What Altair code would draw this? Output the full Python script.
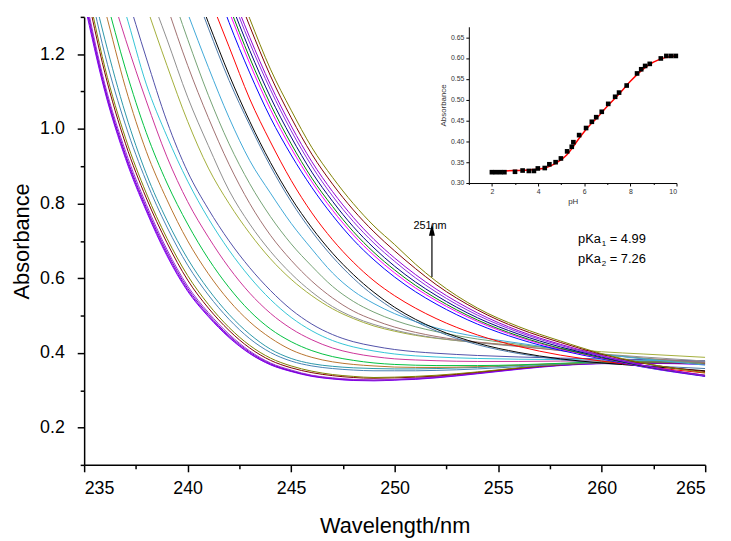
import altair as alt
import pandas as pd

# ---------------- main spectra ----------------
WL = [235, 236, 237, 238, 239, 240, 241, 242, 243, 244, 245, 246, 247, 248,
      249, 250, 251, 252, 254, 256, 258, 260, 262, 265]

# each list is aligned to the END of WL (curves enter the frame at different wavelengths)
S01 = [1.34, 1.10, 0.92, 0.78, 0.66, 0.565, 0.497, 0.441, 0.398, 0.368, 0.350, 0.337, 0.330, 0.326, 0.325, 0.327, 0.329, 0.333, 0.344, 0.356, 0.366, 0.371, 0.372, 0.369]
S02 = [1.35, 1.105, 0.925, 0.784, 0.664, 0.568, 0.499, 0.443, 0.399, 0.369, 0.351, 0.338, 0.331, 0.327, 0.326, 0.328, 0.330, 0.334, 0.345, 0.357, 0.367, 0.372, 0.373, 0.370]
S03 = [1.36, 1.112, 0.931, 0.79, 0.67, 0.573, 0.503, 0.446, 0.402, 0.371, 0.352, 0.339, 0.332, 0.328, 0.327, 0.328, 0.331, 0.335, 0.346, 0.358, 0.367, 0.372, 0.373, 0.371]
S04 = [1.37, 1.12, 0.94, 0.798, 0.677, 0.579, 0.508, 0.45, 0.405, 0.373, 0.354, 0.340, 0.333, 0.329, 0.327, 0.329, 0.332, 0.336, 0.347, 0.359, 0.368, 0.373, 0.374, 0.372]
S05 = [1.40, 1.15, 0.96, 0.815, 0.695, 0.595, 0.52, 0.46, 0.413, 0.38, 0.36, 0.347, 0.339, 0.334, 0.332, 0.333, 0.335, 0.338, 0.348, 0.359, 0.368, 0.373, 0.374, 0.372]
S06 = [1.42, 1.165, 0.975, 0.828, 0.707, 0.607, 0.53, 0.468, 0.42, 0.386, 0.365, 0.351, 0.342, 0.337, 0.334, 0.335, 0.337, 0.34, 0.349, 0.36, 0.369, 0.374, 0.375, 0.373]
S07 = [1.45, 1.20, 1.01, 0.86, 0.737, 0.635, 0.555, 0.49, 0.438, 0.401, 0.378, 0.365, 0.358, 0.354, 0.352, 0.352, 0.352, 0.353, 0.357, 0.363, 0.369, 0.374, 0.376, 0.375]
S08 = [1.47, 1.24, 1.04, 0.88, 0.755, 0.652, 0.57, 0.503, 0.45, 0.41, 0.385, 0.371, 0.364, 0.36, 0.358, 0.357, 0.357, 0.358, 0.361, 0.366, 0.371, 0.375, 0.377, 0.376]
S09 = [1.52, 1.32, 1.11, 0.94, 0.81, 0.70, 0.612, 0.54, 0.483, 0.44, 0.408, 0.388, 0.376, 0.369, 0.365, 0.362, 0.361, 0.361, 0.363, 0.367, 0.371, 0.375, 0.377, 0.376]
S10 = [1.55, 1.36, 1.16, 0.99, 0.855, 0.745, 0.652, 0.575, 0.512, 0.464, 0.43, 0.406, 0.39, 0.38, 0.373, 0.369, 0.367, 0.366, 0.366, 0.368, 0.372, 0.376, 0.378, 0.377]
S11 = [1.6, 1.42, 1.24, 1.075, 0.925, 0.805, 0.71, 0.628, 0.56, 0.506, 0.465, 0.435, 0.413, 0.399, 0.39, 0.384, 0.381, 0.379, 0.377, 0.377, 0.378, 0.379, 0.379, 0.377]
S12 = [1.65, 1.48, 1.31, 1.12, 0.98, 0.86, 0.76, 0.675, 0.603, 0.543, 0.495, 0.459, 0.433, 0.416, 0.405, 0.397, 0.392, 0.389, 0.385, 0.383, 0.382, 0.381, 0.380, 0.378]
S13 = [1.55, 1.37, 1.19, 1.02, 0.885, 0.785, 0.70, 0.628, 0.567, 0.516, 0.477, 0.449, 0.43, 0.418, 0.409, 0.403, 0.399, 0.393, 0.389, 0.386, 0.384, 0.382, 0.379]
S14 = [1.5, 1.33, 1.17, 1.02, 0.895, 0.8, 0.72, 0.652, 0.597, 0.553, 0.518, 0.492, 0.472, 0.458, 0.447, 0.439, 0.428, 0.42, 0.412, 0.403, 0.397, 0.388]
S15 = [1.55, 1.39, 1.24, 1.085, 0.955, 0.835, 0.745, 0.672, 0.612, 0.563, 0.524, 0.496, 0.476, 0.461, 0.449, 0.44, 0.427, 0.417, 0.407, 0.397, 0.389, 0.378]
S16 = [1.5, 1.33, 1.17, 1.03, 0.905, 0.8, 0.715, 0.648, 0.592, 0.547, 0.512, 0.488, 0.469, 0.455, 0.444, 0.429, 0.418, 0.406, 0.395, 0.386, 0.374]
S17 = [1.55, 1.4, 1.24, 1.09, 0.96, 0.853, 0.765, 0.692, 0.632, 0.578, 0.538, 0.509, 0.487, 0.47, 0.457, 0.437, 0.423, 0.409, 0.396, 0.385, 0.37]
S18 = [1.46, 1.31, 1.165, 1.03, 0.915, 0.828, 0.747, 0.678, 0.614, 0.566, 0.532, 0.505, 0.484, 0.467, 0.443, 0.426, 0.41, 0.396, 0.384, 0.367]
S19 = [1.42, 1.27, 1.13, 1.01, 0.9, 0.805, 0.725, 0.657, 0.6, 0.553, 0.515, 0.484, 0.459, 0.422, 0.398, 0.382, 0.372, 0.366, 0.358]
S20 = [1.43, 1.285, 1.145, 1.02, 0.91, 0.815, 0.735, 0.667, 0.61, 0.562, 0.522, 0.49, 0.464, 0.426, 0.401, 0.384, 0.373, 0.365, 0.352]
S21 = [1.36, 1.22, 1.08, 0.965, 0.862, 0.775, 0.703, 0.643, 0.593, 0.553, 0.52, 0.492, 0.448, 0.417, 0.394, 0.378, 0.364, 0.346]
S22 = [1.44, 1.285, 1.15, 1.03, 0.93, 0.843, 0.768, 0.703, 0.649, 0.603, 0.564, 0.531, 0.477, 0.437, 0.407, 0.384, 0.362, 0.337]
S23 = [1.46, 1.315, 1.175, 1.052, 0.948, 0.858, 0.782, 0.716, 0.661, 0.614, 0.574, 0.54, 0.484, 0.442, 0.41, 0.386, 0.363, 0.338]
S24 = [1.48, 1.33, 1.19, 1.066, 0.96, 0.868, 0.792, 0.725, 0.669, 0.622, 0.581, 0.546, 0.488, 0.445, 0.412, 0.387, 0.364, 0.34]
S25 = [1.5, 1.35, 1.21, 1.085, 0.978, 0.884, 0.806, 0.738, 0.681, 0.632, 0.59, 0.554, 0.494, 0.45, 0.416, 0.389, 0.365, 0.338]
S26 = [1.52, 1.37, 1.23, 1.105, 0.995, 0.9, 0.82, 0.752, 0.694, 0.645, 0.601, 0.563, 0.501, 0.455, 0.42, 0.391, 0.366, 0.338]
S27 = [1.54, 1.385, 1.245, 1.118, 1.008, 0.912, 0.832, 0.763, 0.704, 0.654, 0.61, 0.571, 0.507, 0.459, 0.423, 0.393, 0.367, 0.34]
S28 = [1.57, 1.42, 1.275, 1.142, 1.03, 0.932, 0.852, 0.783, 0.724, 0.673, 0.626, 0.583, 0.515, 0.465, 0.428, 0.396, 0.372, 0.35]
S29 = [1.6, 1.44, 1.295, 1.16, 1.05, 0.95, 0.87, 0.80, 0.74, 0.69, 0.638, 0.592, 0.52, 0.47, 0.432, 0.398, 0.373, 0.347]

SPECTRA = [S01, S02, S03, S04, S05, S06, S07, S08, S09, S10, S11, S12, S13, S14, S15,
           S16, S17, S18, S19, S20, S21, S22, S23, S24, S25, S26, S27, S28, S29]

COLORS = ["#7F00FF", "#8B00E0", "#6F00C8", "#9A30D8",
          "#800000", "#808000", "#4682B4", "#2C97A8", "#B8732E", "#00C040",
          "#CC3399", "#33C4D6", "#5050A8", "#A3AE3A", "#8F8F8F", "#A07070",
          "#74A274", "#40A8D8", "#4A78A8", "#000000", "#FF0000", "#0000FF",
          "#FF00FF", "#008000", "#000080", "#8A2BE2", "#9400D3", "#800000", "#808000"]

# ---------------- inset titration ----------------
PH = [2.0, 2.17, 2.36, 2.54, 3.0, 3.33, 3.6, 3.82, 3.99, 4.29, 4.49, 4.76, 4.99, 5.26,
      5.46, 5.53, 5.78, 6.08, 6.33, 6.52, 6.76, 7.04, 7.34, 7.51, 7.84, 8.29, 8.47,
      8.64, 8.84, 9.32, 9.56, 9.77, 9.97]
A251 = [0.326, 0.326, 0.326, 0.326, 0.327, 0.330, 0.329, 0.329, 0.335, 0.336, 0.345,
        0.350, 0.359, 0.376, 0.387, 0.398, 0.415, 0.432, 0.447, 0.458, 0.471, 0.490,
        0.507, 0.517, 0.534, 0.563, 0.573, 0.581, 0.586, 0.599, 0.605, 0.605, 0.605]
FIT_PH = [2, 3, 4, 4.5, 5, 5.25, 5.5, 5.75, 6, 6.25, 6.5, 7, 7.5, 8, 8.5, 9, 9.5, 10]
FIT_A = [0.329, 0.330, 0.333, 0.340, 0.356, 0.368, 0.385, 0.405, 0.423, 0.439, 0.453,
         0.484, 0.513, 0.544, 0.571, 0.590, 0.601, 0.605]

X_TICKS = [235, 237.5, 240, 242.5, 245, 247.5, 250, 252.5, 255, 257.5, 260, 262.5, 265]
Y_TICKS = [0.2, 0.4, 0.6, 0.8, 1.0, 1.2]
Y_MINOR = [0.1, 0.3, 0.5, 0.7, 0.9, 1.1, 1.3]
IX_TICKS = [1, 2, 3, 4, 5, 6, 7, 8, 9, 10]
IY_TICKS = [0.30, 0.325, 0.35, 0.375, 0.40, 0.425, 0.45, 0.475, 0.50, 0.525, 0.55,
            0.575, 0.60, 0.625, 0.65, 0.675]

# annotation values
ARROW_WL = 251.8
ARROW_FROM, ARROW_TO, ARROW_HEAD = 0.603, 0.722, 0.7297
LABEL_251 = ("251nm", 251.71, 0.732)
PKA_WL = 258.86
PKA = [("1", "= 4.99", 0.693), ("2", "= 7.26", 0.641)]

FONT = "Liberation Sans"

rows = []
for i, vals in enumerate(SPECTRA):
    wls = WL[len(WL) - len(vals):]
    for w, v in zip(wls, vals):
        rows.append({"curve": f"c{i:02d}", "wl": w, "A": v})
spec = pd.DataFrame(rows)
curve_ids = [f"c{i:02d}" for i in range(len(SPECTRA))]

x_axis = alt.Axis(values=X_TICKS, title="Wavelength/nm", format="d",
                  labelExpr="datum.value % 5 === 0 ? datum.label : ''",
                  tickSize={"condition": {"test": "datum.value % 5 === 0", "value": 7}, "value": 4},
                  labelFontSize=18, titleFontSize=22, labelPadding=8, titlePadding=18,
                  domainWidth=1.5, tickWidth=1.5, grid=False, labelOverlap=False)
y_axis = alt.Axis(values=Y_TICKS, title="Absorbance", format=".1f", tickSize=7,
                  labelFontSize=18, titleFontSize=22, labelPadding=13, titlePadding=6,
                  domainWidth=1.5, tickWidth=1.5, grid=False, labelOverlap=False)

xs = alt.Scale(domain=[235, 265], nice=False, zero=False)
ys = alt.Scale(domain=[0.1, 1.3], nice=False, zero=False)

lines = alt.Chart(spec).mark_line(clip=True, strokeWidth=1, interpolate="monotone").encode(
    x=alt.X("wl:Q", scale=xs, axis=x_axis),
    y=alt.Y("A:Q", scale=ys, axis=y_axis),
    color=alt.Color("curve:N", scale=alt.Scale(domain=curve_ids, range=COLORS), legend=None),
)

arrow_df = pd.DataFrame({"wl": [ARROW_WL], "A": [ARROW_FROM], "A2": [ARROW_TO]})
rule = alt.Chart(arrow_df).mark_rule(color="black", strokeWidth=1.2).encode(
    x="wl:Q", y="A:Q", y2="A2:Q")
head_df = pd.DataFrame({"wl": [ARROW_WL], "A": [ARROW_HEAD]})
head = alt.Chart(head_df).mark_point(shape="M0,-1L0.5,1L-0.5,1Z", filled=True, size=144,
                                     color="black", opacity=1).encode(x="wl:Q", y="A:Q")

lab_df = pd.DataFrame({"wl": [LABEL_251[1]], "A": [LABEL_251[2]], "t": [LABEL_251[0]]})
lab = alt.Chart(lab_df).mark_text(font=FONT, fontSize=11, align="center",
                                  baseline="alphabetic", color="black").encode(
    x="wl:Q", y="A:Q", text="t:N")

pka_df = pd.DataFrame({"wl": [PKA_WL] * 2, "A": [p[2] for p in PKA],
                       "sub": [p[0] for p in PKA], "rest": [p[1] for p in PKA],
                       "base": ["pKa", "pKa"]})
pka_base = alt.Chart(pka_df).mark_text(font=FONT, fontSize=13, align="left",
                                       baseline="alphabetic", color="black").encode(
    x="wl:Q", y="A:Q", text="base:N")
pka_sub = alt.Chart(pka_df).mark_text(font=FONT, fontSize=8, align="left", dx=24, dy=3,
                                      baseline="alphabetic", color="black").encode(
    x="wl:Q", y="A:Q", text="sub:N")
pka_rest = alt.Chart(pka_df).mark_text(font=FONT, fontSize=13, align="left", dx=32,
                                       baseline="alphabetic", color="black").encode(
    x="wl:Q", y="A:Q", text="rest:N")

main = alt.layer(lines, rule, head, lab, pka_base, pka_sub, pka_rest)

# minor ticks of the main y axis (separate axis, same scale)
minor_df = pd.DataFrame({"wl": [250.0], "A": [0.5]})
minor = alt.Chart(minor_df).mark_point(opacity=0).encode(
    x=alt.X("wl:Q", scale=xs, axis=None),
    y=alt.Y("A:Q", scale=ys, axis=alt.Axis(orient="left", values=Y_MINOR, labels=False,
                                          domain=False, title=None, tickSize=4,
                                          tickWidth=1.5, grid=False)),
)

# inset
pts_df = pd.DataFrame({"pH": PH, "A": A251})
fit_df = pd.DataFrame({"pH": FIT_PH, "A": FIT_A})
ix_axis = alt.Axis(orient="bottom", offset=-285, values=IX_TICKS, title="pH", format="d",
                   labelExpr="datum.value % 2 === 0 ? datum.label : ''",
                   tickSize={"condition": {"test": "datum.value % 2 === 0", "value": 3}, "value": 1.5},
                   labelFontSize=7, titleFontSize=8, labelPadding=2, titlePadding=3,
                   labelColor="#333333", titleColor="#333333", domainWidth=1, tickWidth=1,
                   grid=False, labelOverlap=False)
iy_axis = alt.Axis(orient="left", offset=-389, values=IY_TICKS, title="Absorbance",
                   format=".2f",
                   labelExpr="round(datum.value * 1000) % 50 === 0 ? datum.label : ''",
                   tickSize={"condition": {"test": "round(datum.value * 1000) % 50 === 0", "value": 3}, "value": 1.5},
                   labelFontSize=7, titleFontSize=8, labelPadding=2, titlePadding=3,
                   labelColor="#333333", titleColor="#333333", domainWidth=1, tickWidth=1,
                   grid=False, labelOverlap=False)
ixs = alt.Scale(domain=[1, 10], range=[389, 599], nice=False, zero=False)
iys = alt.Scale(domain=[0.30, 0.675], range=[168, 10], nice=False, zero=False)

fit = alt.Chart(fit_df).mark_line(color="red", strokeWidth=1.5, interpolate="monotone").encode(
    x=alt.X("pH:Q", scale=ixs, axis=ix_axis),
    y=alt.Y("A:Q", scale=iys, axis=iy_axis))
pts = alt.Chart(pts_df).mark_square(size=22, color="black", opacity=1).encode(
    x="pH:Q", y="A:Q")
inset = alt.layer(fit, pts)

chart = alt.layer(main, inset, minor).resolve_scale(
    x="independent", y="independent"
).properties(
    width=628, height=453,
    autosize=alt.AutoSizeParams(type="none"),
    padding={"left": 77, "top": 6, "right": 18, "bottom": 74},
).configure_view(stroke=None).configure_axis(
    labelFont=FONT, titleFont=FONT, domainColor="black", tickColor="black",
    labelColor="black", titleColor="black", titleFontWeight="normal"
)

chart.save("out.html", embed_options={"renderer": "svg", "actions": False})
